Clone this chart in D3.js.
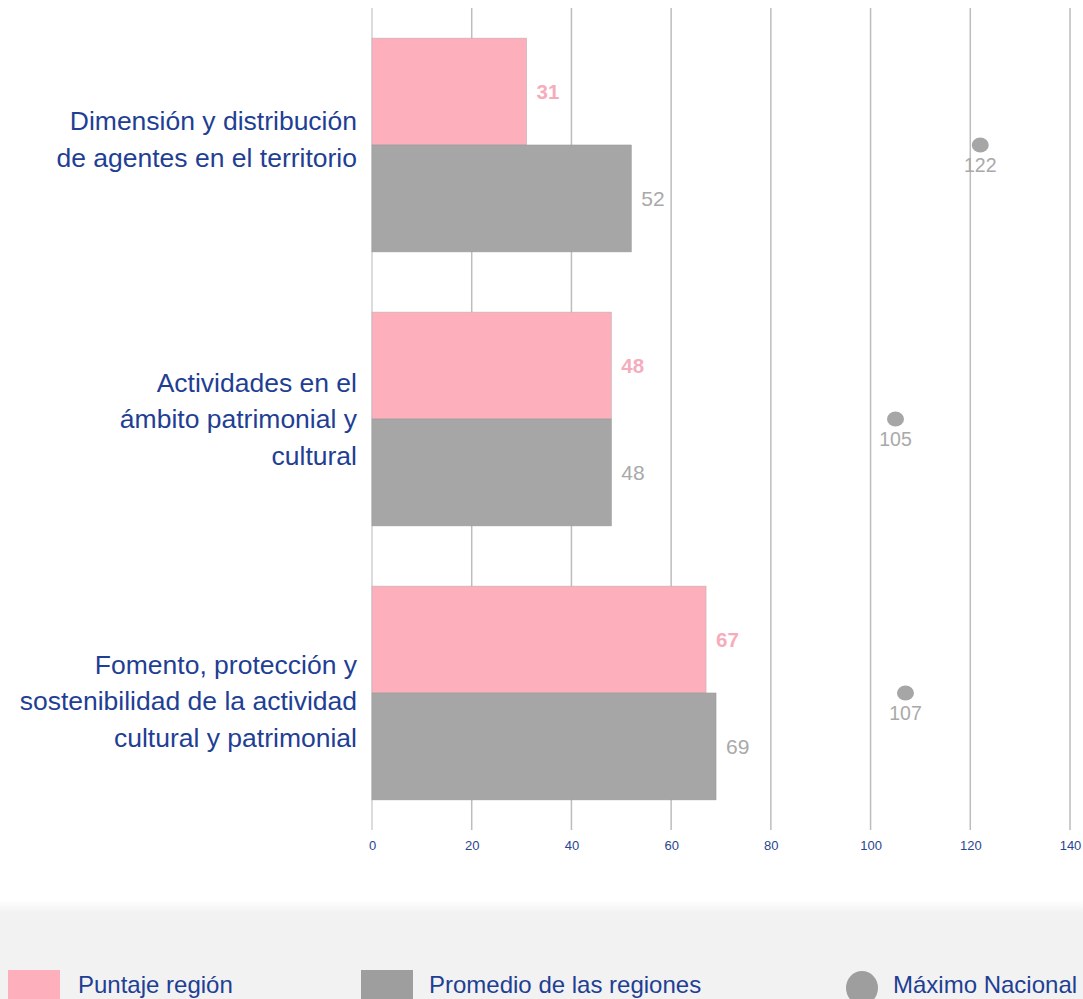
<!DOCTYPE html>
<html>
<head>
<meta charset="utf-8">
<script src="https://cdn.jsdelivr.net/npm/d3@7"></script>
<style>
  html, body { margin: 0; padding: 0; background: #fff; }
  svg { display: block; font-family: "Liberation Sans", Arial, sans-serif; }
</style>
</head>
<body>
<svg id="chart" width="1083" height="999"></svg>
<script>
const categories = [
  ["Dimensión y distribución", "de agentes en el territorio"],
  ["Actividades en el", "ámbito patrimonial y", "cultural"],
  ["Fomento, protección y", "sostenibilidad de la actividad", "cultural y patrimonial"]
];
const regionScores = [31, 48, 67];
const regionAverages = [52, 48, 69];
const nationalMax = [122, 105, 107];
const xTicks = [0, 20, 40, 60, 80, 100, 120, 140];
const legendLabels = ["Puntaje región", "Promedio de las regiones", "Máximo Nacional"];

const pink = "#fdafbc", gray = "#a6a6a6", textBlue = "#1f3f94";
const svg = d3.select("#chart");

const x = d3.scaleLinear().domain([0, 140]).range([372, 1070]);
const y = d3.scaleBand().domain(d3.range(categories.length)).range([8, 830]).paddingInner(0.22).paddingOuter(0.11);

// legend background
const defs = svg.append("defs");
const grad = defs.append("linearGradient").attr("id", "fade").attr("x1", 0).attr("x2", 0).attr("y1", 0).attr("y2", 1);
grad.append("stop").attr("offset", "0%").attr("stop-color", "#ffffff");
grad.append("stop").attr("offset", "100%").attr("stop-color", "#f2f2f2");
svg.append("rect").attr("x", 0).attr("y", 900).attr("width", 1083).attr("height", 13).attr("fill", "url(#fade)");
svg.append("rect").attr("x", 0).attr("y", 912).attr("width", 1083).attr("height", 87).attr("fill", "#f2f2f2");

// gridlines
svg.append("g").selectAll("line").data(xTicks).join("line")
  .attr("x1", d => x(d)).attr("x2", d => x(d))
  .attr("y1", 8).attr("y2", 830)
  .attr("stroke", d => d === 0 ? "#d0d0d0" : "#bdbdbd").attr("stroke-width", 1.5);

// axis tick labels
const axis = d3.axisBottom(x).tickValues(xTicks).tickSize(0).tickPadding(0);
const ga = svg.append("g").attr("transform", "translate(0,841)").call(axis);
ga.select(".domain").remove();
ga.selectAll("text").attr("font-size", 13).attr("fill", "#2a4590").attr("font-family", "Liberation Sans, Arial, sans-serif");

const bh = y.bandwidth() / 2;

// bars
const g = svg.append("g");
g.selectAll(".pink").data(regionScores).join("rect")
  .attr("x", x(0)).attr("y", (d, i) => y(i))
  .attr("width", d => x(d) - x(0)).attr("height", bh)
  .attr("fill", pink).attr("stroke", "#c0b0b3").attr("stroke-width", 0.6);
g.selectAll(".gray").data(regionAverages).join("rect")
  .attr("x", x(0)).attr("y", (d, i) => y(i) + bh)
  .attr("width", d => x(d) - x(0)).attr("height", bh)
  .attr("fill", gray).attr("stroke", "#9a9a9a").attr("stroke-width", 0.6);

// value labels
g.selectAll(".pl").data(regionScores).join("text")
  .attr("x", d => x(d) + 10).attr("y", (d, i) => y(i) + bh / 2)
  .attr("dy", "0.35em").attr("font-size", 20.5).attr("font-weight", "bold")
  .attr("fill", "#f6adbb").text(d => d);
g.selectAll(".gl").data(regionAverages).join("text")
  .attr("x", d => x(d) + 10).attr("y", (d, i) => y(i) + bh * 1.5)
  .attr("dy", "0.35em").attr("font-size", 21)
  .attr("fill", "#a9a9a9").text(d => d);

// national max dots
g.selectAll(".dot").data(nationalMax).join("ellipse")
  .attr("cx", d => x(d)).attr("cy", (d, i) => y(i) + bh)
  .attr("rx", 8.5).attr("ry", 7.5).attr("fill", gray);
g.selectAll(".dl").data(nationalMax).join("text")
  .attr("x", d => x(d)).attr("y", (d, i) => y(i) + bh + 27)
  .attr("text-anchor", "middle").attr("font-size", 19.5)
  .attr("fill", "#a9a9a9").text(d => d);

// category labels
const lh = 36.5;
categories.forEach((lines, i) => {
  const cy = y(i) + bh;
  const t = svg.append("text").attr("text-anchor", "end").attr("font-size", 26.5).attr("fill", textBlue);
  lines.forEach((ln, j) => {
    t.append("tspan").attr("x", 357)
      .attr("y", cy + (j - (lines.length - 1) / 2) * lh - (lines.length === 2 ? 6 : 0) + (i === 2 ? 8 : 0))
      .attr("dy", "0.35em").text(ln);
  });
});

// legend
const lg = svg.append("g");
const legItems = [
  { sx: 8, tx: 78, color: pink, shape: "rect" },
  { sx: 361, tx: 429, color: "#9e9e9e", shape: "rect" },
  { sx: 846, tx: 893, color: "#9e9e9e", shape: "circle" }
];
legItems.forEach((it, i) => {
  if (it.shape === "rect") {
    lg.append("rect").attr("x", it.sx).attr("y", 970).attr("width", 52).attr("height", 40).attr("fill", it.color);
  } else {
    lg.append("ellipse").attr("cx", it.sx + 16).attr("cy", 988).attr("rx", 16).attr("ry", 17).attr("fill", it.color);
  }
  lg.append("text").attr("x", it.tx).attr("y", 985).attr("dy", "0.35em")
    .attr("font-size", 24).attr("fill", textBlue).text(legendLabels[i]);
});
</script>
</body>
</html>
